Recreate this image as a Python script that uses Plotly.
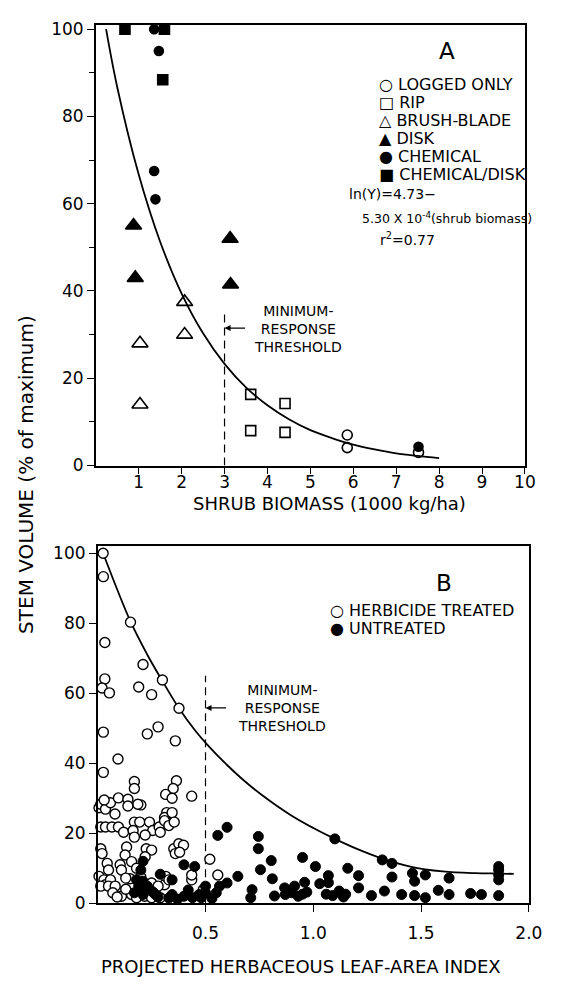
import plotly.graph_objects as go

W, H = 568, 984

# ---------------- Panel A data ----------------
logged_x = [5.86, 5.86, 7.52]
logged_y = [7.0, 4.1, 3.0]
rip_x = [3.61, 4.41, 3.61, 4.41]
rip_y = [16.3, 14.2, 8.0, 7.6]
brush_x = [2.07, 2.07, 1.03, 1.03]
brush_y = [37.5, 30.0, 28.0, 14.0]
disk_x = [0.88, 0.92, 3.13, 3.14]
disk_y = [55.0, 43.0, 52.0, 41.5]
chem_x = [1.36, 1.47, 1.36, 1.39, 7.52]
chem_y = [100.0, 95.0, 67.5, 61.0, 4.3]
chemdisk_x = [0.68, 1.60, 1.56]
chemdisk_y = [100.0, 100.0, 88.4]

# fitted curve
fitA_x = [0.24, 0.5, 1.0, 1.5, 2.0, 2.5, 3.0, 3.5, 4.0, 4.5, 5.0, 5.5, 6.0, 6.5, 7.0, 7.5, 8.0]
fitA_y = [100, 86.7, 66.7, 51.3, 39.4, 30.3, 23.3, 17.9, 13.8, 10.6, 8.1, 6.3, 4.8, 3.7, 2.8, 2.2, 1.7]

threshA_x = [3.0, 3.0]
threshA_y = [0, 35]

# ---------------- Panel B data ----------------
treated_x = [0.025, 0.026, 0.152, 0.033, 0.21, 0.30, 0.033, 0.02, 0.054, 0.19, 0.25, 0.377,
             0.026, 0.23, 0.28, 0.36, 0.094, 0.026,
             0.17, 0.17, 0.365, 0.35, 0.315, 0.345, 0.436, 0.20,
             0.006, 0.014, 0.036, 0.059, 0.096, 0.14, 0.186, 0.08, 0.14, 0.03,
             0.32, 0.31, 0.345,
             0.014, 0.036, 0.066, 0.096, 0.12,
             0.17, 0.195, 0.164, 0.24, 0.255, 0.285, 0.31, 0.33, 0.355, 0.29, 0.17, 0.22,
             0.014, 0.02, 0.044, 0.05,
             0.134, 0.127, 0.104, 0.11, 0.157, 0.18, 0.225, 0.25, 0.22,
             0.353, 0.376, 0.398, 0.36, 0.38,
             0.006, 0.029, 0.036, 0.014, 0.059, 0.05, 0.081,
             0.11, 0.157, 0.18, 0.217, 0.25, 0.27, 0.29, 0.31, 0.315, 0.33, 0.25, 0.28, 0.235,
             0.436, 0.436, 0.52, 0.557, 0.49, 0.07, 0.09, 0.13, 0.15, 0.20, 0.13]
treated_y = [100, 93.3, 80.3, 74.5, 68.2, 63.8, 64.1, 61.5, 60.1, 61.8, 59.6, 55.7,
             48.9, 48.4, 50.4, 46.4, 41.2, 37.4,
             34.8, 32.8, 35.0, 32.8, 31.1, 30.0, 30.6, 28.1,
             27.3, 28.3, 26.9, 28.7, 30.1, 29.7, 28.3, 25.5, 27.8, 29.5,
             25.9, 24.5, 25.9,
             21.8, 21.8, 21.8, 21.8, 20.3,
             23.2, 23.2, 20.8, 23.2, 20.8, 21.8, 23.6, 22.2, 23.2, 20.3, 18.9, 19.5,
             15.6, 14.2, 11.4, 9.5,
             16.1, 13.8, 11.0, 9.5, 11.9, 10.0, 15.6, 15.2, 13.3,
             15.6, 17.0, 16.6, 14.2, 14.6,
             7.7, 6.7, 5.3, 4.9, 6.7, 4.9, 4.9,
             2.0, 2.5, 1.6, 2.0, 1.6, 2.5, 1.6, 5.3, 7.7, 6.7, 5.8, 4.9, 3.9,
             6.7, 8.1, 12.6, 8.1, 3.9, 3.0, 1.8, 4.0, 7.0, 7.5, 7.2]

untreated_x = [0.557, 0.60, 0.745, 0.745, 0.755, 0.40, 0.45, 0.29, 0.345, 0.18, 0.21, 0.19,
               0.23, 0.17, 0.21, 0.25, 0.21, 0.20, 0.345, 0.40, 0.44, 0.47, 0.50, 0.50,
               0.48, 0.565, 0.60, 0.65, 0.716, 0.71,
               0.805, 0.81, 0.82, 0.867, 0.913, 0.87, 0.90, 0.93, 0.95, 0.97, 0.95, 1.01,
               1.10, 1.16, 1.07, 1.07, 1.03, 0.96, 1.06, 1.09, 1.12, 1.15, 1.14, 1.21, 1.21,
               1.27, 1.32, 1.365, 1.365, 1.33, 1.41, 1.46, 1.47, 1.47, 1.52, 1.52, 1.58,
               1.63, 1.63, 1.73, 1.78, 1.86, 1.86, 1.86, 1.86, 1.86,
               0.37, 0.33, 0.28, 0.26, 0.42, 0.53, 0.55]
untreated_y = [19.4, 21.7, 19.1, 15.6, 9.6, 11.0, 10.5, 8.3, 6.7, 6.7, 6.3, 4.9,
               4.9, 3.0, 2.5, 3.5, 12.0, 9.5, 2.5, 2.0, 1.6, 2.5, 4.9, 3.0,
               1.6, 4.9, 5.8, 7.7, 3.9, 1.6,
               12.2, 7.0, 2.1, 4.4, 4.9, 2.5, 3.0, 2.0, 2.6, 3.2, 13.1, 10.5,
               18.4, 10.0, 7.9, 5.9, 5.6, 6.0, 2.6, 2.2, 3.5, 2.6, 1.8, 7.9, 4.4,
               2.2, 12.4, 11.4, 7.5, 3.5, 2.5, 8.6, 6.3, 2.2, 8.1, 1.6, 3.7,
               7.2, 2.5, 2.8, 2.5, 2.2, 10.5, 9.5, 8.1, 6.7,
               1.2, 1.5, 1.8, 3.0, 3.8, 1.4, 3.0]

fitB_x = [0.025, 0.152, 0.23, 0.30, 0.377, 0.45, 0.51, 0.60, 0.67, 0.76, 0.90,
          1.00, 1.10, 1.20, 1.30, 1.45, 1.60, 1.75, 1.86, 1.93]
fitB_y = [100, 80.5, 71.0, 63.5, 55.7, 49.5, 45.2, 39.5, 35.5, 31.0, 25.0,
          21.5, 18.4, 15.6, 13.2, 10.5, 9.1, 8.6, 8.5, 8.4]

threshB_x = [0.5, 0.5]
threshB_y = [0, 65]

A_xticks = [1, 2, 3, 4, 5, 6, 7, 8, 9, 10]
A_yticks = [0, 20, 40, 60, 80, 100]
A_yminor = [10, 30, 50, 70, 90]
B_xticks = [0.5, 1.0, 1.5, 2.0]
B_xticklabels = ["0.5", "1.0", "1.5", "2.0"]
B_yticks = [0, 20, 40, 60, 80, 100]

FONT = "DejaVu Sans, Liberation Sans, Arial, sans-serif"

fig = go.Figure()

def mk(symbol, size):
    return dict(symbol=symbol, size=size, color="black",
                line=dict(color="black", width=1.6))

# Panel A traces
fig.add_trace(go.Scatter(x=fitA_x, y=fitA_y, mode="lines", line=dict(color="black", width=1.8, shape="spline"),
                         xaxis="x", yaxis="y", showlegend=False, hoverinfo="skip"))
fig.add_trace(go.Scatter(x=threshA_x, y=threshA_y, mode="lines", line=dict(color="black", width=1.2, dash="8px,5px"),
                         xaxis="x", yaxis="y", showlegend=False, hoverinfo="skip"))
fig.add_trace(go.Scatter(x=logged_x, y=logged_y, mode="markers", name="LOGGED ONLY",
                         marker=mk("circle-open", 10), xaxis="x", yaxis="y", cliponaxis=False))
fig.add_trace(go.Scatter(x=rip_x, y=rip_y, mode="markers", name="RIP",
                         marker=mk("square-open", 10), xaxis="x", yaxis="y", cliponaxis=False))
fig.add_trace(go.Scatter(x=brush_x, y=brush_y, mode="markers", name="BRUSH-BLADE",
                         marker=mk("triangle-up-open", 14), xaxis="x", yaxis="y", cliponaxis=False))
fig.add_trace(go.Scatter(x=disk_x, y=disk_y, mode="markers", name="DISK",
                         marker=mk("triangle-up", 14), xaxis="x", yaxis="y", cliponaxis=False))
fig.add_trace(go.Scatter(x=chem_x, y=chem_y, mode="markers", name="CHEMICAL",
                         marker=mk("circle", 9), xaxis="x", yaxis="y", cliponaxis=False))
fig.add_trace(go.Scatter(x=chemdisk_x, y=chemdisk_y, mode="markers", name="CHEMICAL/DISK",
                         marker=mk("square", 10), xaxis="x", yaxis="y", cliponaxis=False))

# Panel B traces
fig.add_trace(go.Scatter(x=fitB_x, y=fitB_y, mode="lines", line=dict(color="black", width=1.8, shape="spline"),
                         xaxis="x2", yaxis="y2", showlegend=False, hoverinfo="skip"))
fig.add_trace(go.Scatter(x=threshB_x, y=threshB_y, mode="lines", line=dict(color="black", width=1.2, dash="8px,5px"),
                         xaxis="x2", yaxis="y2", showlegend=False, hoverinfo="skip"))
fig.add_trace(go.Scatter(x=treated_x, y=treated_y, mode="markers", name="HERBICIDE TREATED",
                         marker=dict(symbol="circle", size=10, color="white", line=dict(color="black", width=1.4)),
                         xaxis="x2", yaxis="y2", cliponaxis=False))
fig.add_trace(go.Scatter(x=untreated_x, y=untreated_y, mode="markers", name="UNTREATED",
                         marker=dict(symbol="circle", size=10, color="black", line=dict(color="black", width=1)),
                         xaxis="x2", yaxis="y2", cliponaxis=False))

axis_common = dict(showline=True, mirror=True, linecolor="black", linewidth=1.6,
                   ticks="outside", ticklen=7, tickwidth=1.4, tickcolor="black",
                   showgrid=False, zeroline=False,
                   tickfont=dict(family=FONT, size=17, color="black"))

fig.update_layout(
    width=W, height=H,
    margin=dict(l=0, r=0, t=0, b=0),
    paper_bgcolor="white", plot_bgcolor="white",
    showlegend=False,
    font=dict(family=FONT, color="black"),
    xaxis=dict(domain=[90 / W, 530 / W], range=[0, 10], tickvals=A_xticks, anchor="y",
               ticklabelstandoff=-7, **axis_common),
    yaxis=dict(domain=[1 - 459 / H, 1 - 11 / H], range=[0, 101], tickvals=A_yticks, anchor="x",
               minor=dict(tickvals=A_yminor, ticks="outside", ticklen=5, tickcolor="black"), **axis_common),
    xaxis2=dict(domain=[92 / W, 534 / W], range=[0, 2.0], tickvals=B_xticks, ticktext=B_xticklabels,
                anchor="y2", ticklabelstandoff=6, **axis_common),
    yaxis2=dict(domain=[1 - 904 / H, 1 - 541 / H], range=[0, 102], tickvals=B_yticks, anchor="x2", **axis_common),
)

def ptext(x, y, text, size=15, xanchor="left", yanchor="middle", **kw):
    fig.add_annotation(x=x / W, y=1 - y / H, xref="paper", yref="paper", text=text, showarrow=False,
                       xanchor=xanchor, yanchor=yanchor, align=kw.pop("align", "left"),
                       font=dict(family=FONT, size=size, color="black"), **kw)

# Axis titles
ptext(330, 498, "SHRUB BIOMASS (1000 kg/ha)", size=18, xanchor="center")
ptext(300, 968, "PROJECTED HERBACEOUS LEAF-AREA INDEX", size=18, xanchor="center")
ptext(19, 468, "STEM VOLUME (% of maximum)", size=20, xanchor="center", textangle=-90)

# Panel A labels
ptext(450, 38, "A", size=23, xanchor="center")
legendA = ["○ LOGGED ONLY", "□ RIP", "△ BRUSH-BLADE", "▲ DISK", "● CHEMICAL", "■ CHEMICAL/DISK"]
for i, t in enumerate(legendA):
    ptext(378, 72 + i * 18.2, t, size=16)
ptext(348, 183, "ln(Y)=4.73−", size=14)
ptext(361, 207, "5.30 X 10<sup>-4</sup>(shrub biomass)", size=12.5)
ptext(379, 229, "r<sup>2</sup>=0.77", size=14)
ptext(297, 320, "MINIMUM-<br>RESPONSE<br>THRESHOLD", size=14, xanchor="center", align="center")
fig.add_annotation(x=3.0, y=31.5, xref="x", yref="y", ax=24, ay=0, axref="pixel", ayref="pixel",
                   showarrow=True, arrowhead=2, arrowsize=1, arrowwidth=1.2, arrowcolor="black", text=" ")

# Panel B labels
ptext(447, 578, "B", size=23, xanchor="center")
ptext(328, 606, "○ HERBICIDE TREATED", size=16)
ptext(328, 625, "● UNTREATED", size=16)
ptext(281, 705, "MINIMUM-<br>RESPONSE<br>THRESHOLD", size=14, xanchor="center", align="center")
fig.add_annotation(x=0.5, y=55.8, xref="x2", yref="y2", ax=24, ay=0, axref="pixel", ayref="pixel",
                   showarrow=True, arrowhead=2, arrowsize=1, arrowwidth=1.2, arrowcolor="black", text=" ")

fig.write_html("out.html")
